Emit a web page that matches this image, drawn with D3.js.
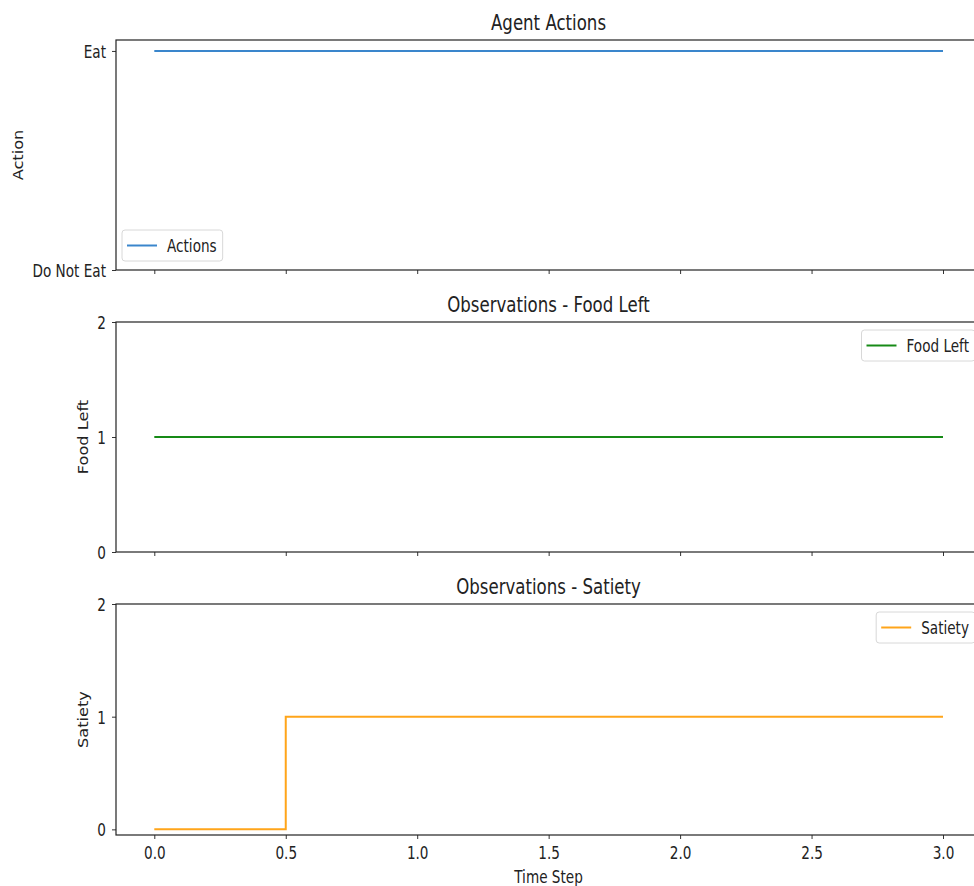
<!DOCTYPE html>
<html>
<head>
<meta charset="utf-8">
<script src="https://cdn.jsdelivr.net/npm/d3@7"></script>
<style>
  body { margin: 0; background: #fff; }
  text { font-family: "DejaVu Sans", sans-serif; fill: #222; }
</style>
</head>
<body>
<div class="chart"></div>
<script>
// time steps and series
var steps = [0, 1, 2, 3];
var actions = [1, 1, 1, 1];      // 1 = Eat
var foodLeft = [1, 1, 1, 1];
var satiety = [0, 1, 1, 1];
var xTicks = [0, 0.5, 1, 1.5, 2, 2.5, 3];

var width = 974, height = 886;
var stretch = 1.3;   // the picture's text looks taller than wide
var axLeft = 116, axRight = 981;

var svg = d3.select(".chart")
    .append("svg")
    .attr("width", width)
    .attr("height", height);

var x = d3.scaleLinear()
    .domain([0, 3])
    .range([154.3, 943]);

// place a text at (px,py) with the vertical stretch
function place(sel, px, py) {
    sel.attr("x", 0).attr("y", 0).attr("dy", 0)
        .attr("transform", "translate(" + px + "," + py + ") scale(1," + stretch + ")");
}

// one entry per subplot
var panels = [
    { title: "Agent Actions", ylabel: "Action", top: 40, bottom: 270, domain: [0, 1.05],
      yticks: [0, 1], ylabels: ["Do Not Eat", "Eat"], values: actions, color: "#3a86cc",
      legend: "Actions", legendPos: "lowerleft", labelX: 18.5 },
    { title: "Observations - Food Left", ylabel: "Food Left", top: 322, bottom: 552, domain: [0, 2],
      yticks: [0, 1, 2], ylabels: ["0", "1", "2"], values: foodLeft, color: "#168a16",
      legend: "Food Left", legendPos: "upperright", labelX: 83 },
    { title: "Observations - Satiety", ylabel: "Satiety", top: 604, bottom: 835, domain: [-0.05, 2],
      yticks: [0, 1, 2], ylabels: ["0", "1", "2"], values: satiety, color: "#ffa51a",
      legend: "Satiety", legendPos: "upperright", labelX: 83 }
];

panels.forEach(function (p, i) {
    var y = d3.scaleLinear().domain(p.domain).range([p.bottom, p.top]);
    var g = svg.append("g");

    // data line, steps-mid style
    var line = d3.line()
        .x(function (d, k) { return x(steps[k]); })
        .y(function (d) { return y(d); })
        .curve(d3.curveStep);

    g.append("path")
        .datum(p.values)
        .attr("d", line)
        .attr("fill", "none")
        .attr("stroke", p.color)
        .attr("stroke-width", 2);

    // axes
    var xAxis = d3.axisBottom(x).tickValues(xTicks).tickSize(4)
        .tickFormat(i === 2 ? d3.format(".1f") : "");
    var xg = g.append("g")
        .attr("transform", "translate(0," + p.bottom + ")")
        .call(xAxis);
    xg.select(".domain").remove();
    xg.selectAll(".tick text").call(place, 0, 24);

    var yAxis = d3.axisLeft(y).tickValues(p.yticks).tickSize(4)
        .tickFormat(function (d, k) { return p.ylabels[k]; });
    var yg = g.append("g")
        .attr("transform", "translate(" + axLeft + ",0)")
        .call(yAxis);
    yg.select(".domain").remove();
    yg.selectAll(".tick text").call(place, -10, 6.5);

    [xg, yg].forEach(function (a) {
        a.selectAll(".tick line").attr("stroke", "#333").attr("stroke-width", 1);
        a.selectAll(".tick text").style("font-size", "13.6px").attr("fill", "#222");
    });

    // spines
    g.append("rect")
        .attr("x", axLeft).attr("y", p.top)
        .attr("width", axRight - axLeft).attr("height", p.bottom - p.top)
        .attr("fill", "none").attr("stroke", "#222").attr("stroke-width", 1.2);

    // title
    g.append("text")
        .attr("text-anchor", "middle")
        .style("font-size", "16.6px")
        .text(p.title)
        .call(place, (axLeft + axRight) / 2, p.top - 10);

    // y label, stretched along its length
    g.append("text")
        .attr("transform", "translate(" + p.labelX + "," + ((p.top + p.bottom) / 2) + ") rotate(-90) scale(1.19,1)")
        .attr("text-anchor", "middle")
        .attr("dy", "0.36em")
        .style("font-size", "13.6px")
        .text(p.ylabel);

    // legend
    var lg = g.append("g");
    var lbl = lg.append("text")
        .style("font-size", "13.6px")
        .text(p.legend)
        .call(place, 45, 22);
    var tw = lbl.node().getComputedTextLength();
    var bw = 45 + tw + 6;
    var lx, ly;
    if (p.legendPos === "lowerleft") { lx = 122; ly = p.bottom - 40; }
    else { lx = axRight - 6 - bw; ly = p.top + 8; }
    lg.attr("transform", "translate(" + lx + "," + ly + ")");
    lg.insert("rect", "text")
        .attr("width", bw).attr("height", 31)
        .attr("rx", 3)
        .attr("fill", "#fff").attr("fill-opacity", 0.8)
        .attr("stroke", "#d8d8d8");
    lg.append("line")
        .attr("x1", 5).attr("x2", 35).attr("y1", 15.5).attr("y2", 15.5)
        .attr("stroke", p.color).attr("stroke-width", 2);
});

// shared x label
svg.append("text")
    .attr("text-anchor", "middle")
    .style("font-size", "13.6px")
    .text("Time Step")
    .call(place, (axLeft + axRight) / 2, 883);
</script>
</body>
</html>
